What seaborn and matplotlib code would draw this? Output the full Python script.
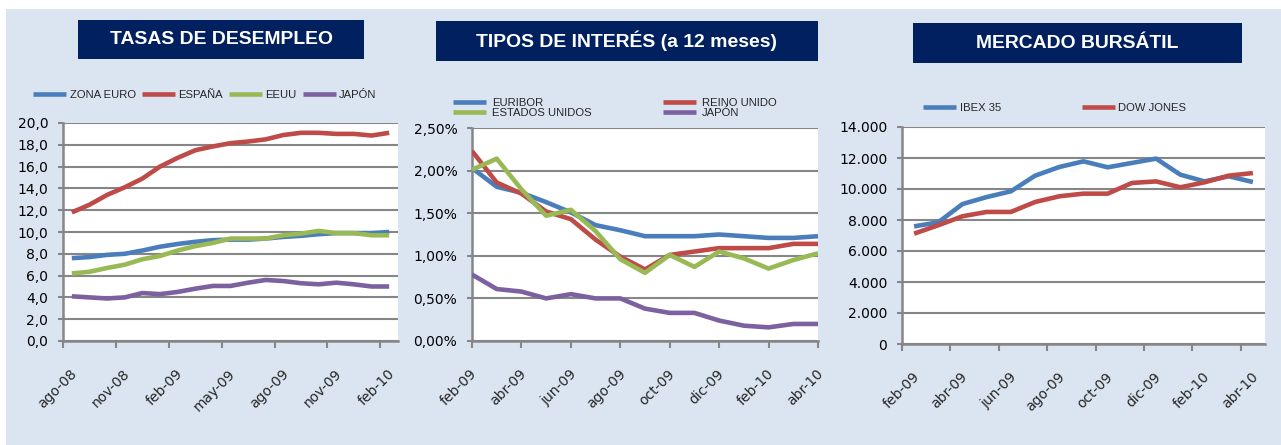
import numpy as np
import pandas as pd
import matplotlib
matplotlib.use("Agg")
import matplotlib.pyplot as plt
import seaborn as sns
from matplotlib import font_manager as fm
from matplotlib.patches import Rectangle
from matplotlib.lines import Line2D
from matplotlib.ticker import FixedLocator, FuncFormatter
from matplotlib.transforms import ScaledTranslation

# ---------------- data ----------------
months_desempleo = ['ago-08', 'sep-08', 'oct-08', 'nov-08', 'dic-08', 'ene-09', 'feb-09',
                    'mar-09', 'abr-09', 'may-09', 'jun-09', 'jul-09', 'ago-09', 'sep-09',
                    'oct-09', 'nov-09', 'dic-09', 'ene-10', 'feb-10']
zona_euro = [7.6, 7.7, 7.9, 8.0, 8.3, 8.65, 8.9, 9.1, 9.25, 9.3, 9.3, 9.4, 9.55, 9.65, 9.8, 9.9, 9.9, 9.9, 10.0]
espana = [11.8, 12.5, 13.4, 14.1, 14.9, 16.0, 16.8, 17.5, 17.85, 18.15, 18.3, 18.5, 18.9, 19.1, 19.1, 19.0, 19.0, 18.85, 19.1]
eeuu = [6.2, 6.35, 6.7, 7.0, 7.5, 7.8, 8.3, 8.7, 9.0, 9.4, 9.4, 9.4, 9.7, 9.85, 10.1, 9.9, 9.9, 9.7, 9.7]
japon_desempleo = [4.1, 4.0, 3.9, 4.0, 4.4, 4.3, 4.5, 4.8, 5.05, 5.05, 5.35, 5.6, 5.5, 5.3, 5.2, 5.35, 5.2, 5.0, 5.0]
series_desempleo = ['ZONA EURO', 'ESPAÑA', 'EEUU', 'JAPÓN']

months_14 = ['feb-09', 'mar-09', 'abr-09', 'may-09', 'jun-09', 'jul-09', 'ago-09', 'sep-09',
             'oct-09', 'nov-09', 'dic-09', 'ene-10', 'feb-10', 'mar-10', 'abr-10']
euribor = [2.03, 1.81, 1.74, 1.63, 1.51, 1.36, 1.30, 1.23, 1.23, 1.23, 1.25, 1.23, 1.21, 1.21, 1.23]
reino_unido = [2.23, 1.86, 1.73, 1.52, 1.43, 1.19, 0.99, 0.84, 1.01, 1.05, 1.09, 1.09, 1.09, 1.14, 1.14]
estados_unidos = [2.01, 2.14, 1.78, 1.47, 1.54, 1.29, 0.96, 0.80, 1.01, 0.87, 1.05, 0.97, 0.85, 0.95, 1.03]
japon_tipos = [0.78, 0.61, 0.58, 0.50, 0.55, 0.50, 0.50, 0.38, 0.33, 0.33, 0.24, 0.18, 0.16, 0.20, 0.20]
series_tipos = ['EURIBOR', 'REINO UNIDO', 'ESTADOS UNIDOS', 'JAPÓN']

ibex35 = [7590, 7850, 9030, 9480, 9850, 10860, 11420, 11785, 11400, 11680, 11960, 10925, 10490, 10820, 10450]
dow_jones = [7120, 7660, 8240, 8520, 8520, 9160, 9530, 9700, 9700, 10390, 10490, 10110, 10430, 10860, 11030]
series_bolsa = ['IBEX 35', 'DOW JONES']

titles = ['TASAS DE DESEMPLEO', 'TIPOS DE INTERÉS (a 12 meses)', 'MERCADO BURSÁTIL']

# ---------------- style ----------------
sns.set_style("white")
plt.rcParams['font.family'] = ['DejaVu Sans']
avail = {f.name for f in fm.fontManager.ttflist}
if 'Liberation Sans Narrow' in avail:
    NARROW, NSCALE = ['Liberation Sans Narrow', 'DejaVu Sans'], 1.0
else:
    NARROW, NSCALE = ['Liberation Sans', 'DejaVu Sans'], 0.84

BLUE, RED, GREEN, PURPLE = '#4A7EBB', '#BE4B48', '#98B954', '#7D60A0'
GRAY = '#868686'
BG = '#DBE5F1'
NAVY = '#002060'
LW = 3.3
W, H = 1281, 445
DPI = 100

fig = plt.figure(figsize=(W / DPI, H / DPI), dpi=DPI)
fig.patch.set_facecolor('white')
fig.patches.append(Rectangle((6 / W, 0), 1, 1 - 9 / H, transform=fig.transFigure,
                             facecolor=BG, edgecolor='none', zorder=-10))


def rect(x0, y0, x1, y1):
    return [x0 / W, 1 - y1 / H, (x1 - x0) / W, (y1 - y0) / H]


# title boxes
boxes = [(78, 20, 364, 59), (436, 21, 818, 61), (913, 23, 1242, 63)]
for (x0, y0, x1, y1), t in zip(boxes, titles):
    fig.patches.append(Rectangle((x0 / W, 1 - y1 / H), (x1 - x0) / W, (y1 - y0) / H,
                                 transform=fig.transFigure, facecolor=NAVY,
                                 edgecolor='none', zorder=1))
    fig.text((x0 + x1) / 2 / W, 1 - (y0 + y1) / 2 / H, t, color='white',
             fontsize=16.6 * NSCALE, fontweight='bold', family=NARROW,
             ha='center', va='center', zorder=2)


def draw_panel(ax_rect, xs, values, names, colors, ylim, yticks, yfmt):
    ax = fig.add_axes(ax_rect)
    df = pd.DataFrame({
        'x': np.tile(xs, len(names)),
        'valor': np.concatenate([np.asarray(v, dtype=float) for v in values]),
        'serie': np.repeat(names, len(xs)),
    })
    sns.lineplot(data=df, x='x', y='valor', hue='serie', hue_order=names,
                 palette=colors, linewidth=LW, legend=False, ax=ax,
                 estimator=None, sort=False)
    for ln in ax.get_lines():
        ln.set_solid_joinstyle('round')
        ln.set_solid_capstyle('butt')
        ln.set_zorder(3)
    ax.set_facecolor('white')
    ax.set_ylim(*ylim)
    ax.yaxis.set_major_locator(FixedLocator(yticks))
    ax.yaxis.set_major_formatter(FuncFormatter(yfmt))
    ax.grid(axis='y', color=GRAY, linewidth=1.5)
    ax.grid(axis='x', visible=False)
    ax.set_axisbelow(True)
    for s in ['top', 'right']:
        ax.spines[s].set_visible(False)
    for s in ['left', 'bottom']:
        ax.spines[s].set_color(GRAY)
        ax.spines[s].set_linewidth(1.8)
    ax.tick_params(axis='y', which='major', left=True, length=3.6, width=1.5,
                   color=GRAY, labelsize=10, pad=7, labelcolor='black')
    ax.set_xlabel('')
    ax.set_ylabel('')
    return ax


def set_xaxis(ax, labels_pos, labels, minor_pos, xlim, major_len):
    ax.set_xlim(*xlim)
    ax.set_xticks(labels_pos)
    ax.set_xticklabels(labels, rotation=45, ha='right', va='center',
                       rotation_mode='anchor', fontsize=10)
    if minor_pos is not None:
        ax.set_xticks(minor_pos, minor=True)
        ax.tick_params(axis='x', which='minor', bottom=True, length=5, width=1.5, color=GRAY)
    ax.tick_params(axis='x', which='major', bottom=True, length=major_len, width=1.5,
                   color=GRAY, pad=22 - major_len)
    for lbl in ax.get_xticklabels():
        lbl.set_transform(lbl.get_transform() + ScaledTranslation(3 / 100, 0, fig.dpi_scale_trans))


def add_legend(ax, names, colors, left_px, cy_px, ncol, colspacing, textpad):
    handles = [Line2D([], [], color=c, linewidth=LW, solid_capstyle='butt') for c in colors]
    if ncol == 2 and len(names) == 4:
        order = [0, 2, 1, 3]
        handles = [handles[i] for i in order]
        names = [names[i] for i in order]
    fs = 9.7 * NSCALE
    em = 9.7 * DPI / 72
    ax.legend(handles, names, loc='center left',
              bbox_to_anchor=(left_px / W, 1 - cy_px / H), bbox_transform=fig.transFigure,
              ncol=ncol, frameon=False, borderpad=0, borderaxespad=0,
              handlelength=33 / em / NSCALE, handletextpad=textpad / em / NSCALE,
              columnspacing=colspacing / em / NSCALE, labelspacing=0.05,
              prop={'family': NARROW, 'size': fs})


def fmt_comma1(v, _):
    return f"{v:.1f}".replace('.', ',')


def fmt_pct(v, _):
    return f"{v:.2f}%".replace('.', ',')


def fmt_thousands(v, _):
    return f"{int(round(v)):,}".replace(',', '.')


# Panel 1
x1 = np.arange(len(months_desempleo))
c1 = [BLUE, RED, GREEN, PURPLE]
ax1 = draw_panel(rect(63, 123, 398, 341), x1,
                 [zona_euro, espana, eeuu, japon_desempleo], series_desempleo, c1,
                 (0, 20), np.arange(0, 20.01, 2), fmt_comma1)
set_xaxis(ax1, x1[::3], months_desempleo[::3], np.arange(-0.5, 18, 3), (-0.5, 18.5), 0)
add_legend(ax1, series_desempleo, c1, 33, 95, 4, 6, 3.5)

# Panel 2
x2 = np.arange(len(months_14))
c2 = [BLUE, RED, GREEN, PURPLE]
ax2 = draw_panel(rect(472, 128, 818, 341), x2,
                 [euribor, reino_unido, estados_unidos, japon_tipos], series_tipos, c2,
                 (0, 2.5), np.arange(0, 2.501, 0.5), fmt_pct)
set_xaxis(ax2, x2[::2], months_14[::2], None, (0, 14), 5)
add_legend(ax2, series_tipos, c2, 453, 108, 2, 71, 6)

# Panel 3
c3 = [BLUE, RED]
ax3 = draw_panel(rect(902, 127, 1265, 344), x2,
                 [ibex35, dow_jones], series_bolsa, c3,
                 (0, 14000), np.arange(0, 14001, 2000), fmt_thousands)
set_xaxis(ax3, x2[::2], months_14[::2], np.arange(-0.5, 14, 2), (-0.5, 14.5), 0)
add_legend(ax3, series_bolsa, c3, 923, 108, 2, 81, 3.5)

fig.savefig('out.png', dpi=DPI, facecolor=fig.get_facecolor())
